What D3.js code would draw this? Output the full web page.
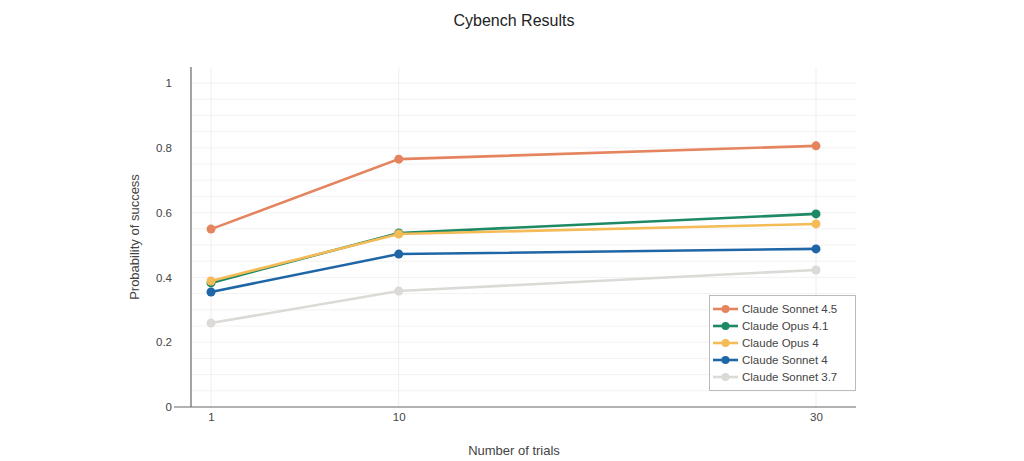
<!DOCTYPE html>
<html><head><meta charset="utf-8">
<script src="https://cdn.jsdelivr.net/npm/d3@7"></script>
<style>body{margin:0;background:#fff;}svg{display:block;font-family:"Liberation Sans",Arial,sans-serif;}</style>
</head><body><svg id="c" width="1024" height="461"></svg>
<script>
const trials = [1, 10, 30];
const seriesNames = ["Claude Sonnet 4.5", "Claude Opus 4.1", "Claude Opus 4", "Claude Sonnet 4", "Claude Sonnet 3.7"];
const sonnet45 = [0.549, 0.765, 0.806];
const opus41 = [0.383, 0.537, 0.596];
const opus4 = [0.389, 0.534, 0.565];
const sonnet4 = [0.355, 0.472, 0.488];
const sonnet37 = [0.259, 0.358, 0.423];
const seriesColors = ["#e5855f", "#1e8a64", "#f4bb57", "#1f66a6", "#dcdad6"];
const yTicks = [0, 0.2, 0.4, 0.6, 0.8, 1];
const xTicks = [1, 10, 30];

const seriesValues = [sonnet45, opus41, opus4, sonnet4, sonnet37];
const FONT = '"Liberation Sans", Arial, sans-serif';
const svg = d3.select("#c");
const x = d3.scaleLinear().domain([1, 30]).range([211, 816]);
const y = d3.scaleLinear().domain([0, 1]).range([407, 83]);
const pL = 191, pR = 856, pT = 67, pB = 407;

// grid
const g = svg.append("g");
g.selectAll("line.hg").data(d3.range(1, 21).map(i => i * 0.05)).enter().append("line")
  .attr("x1", pL).attr("x2", pR).attr("y1", d => y(d)).attr("y2", d => y(d))
  .attr("stroke", "#f2f2f2").attr("stroke-width", 1);
g.selectAll("line.vg").data(xTicks).enter().append("line")
  .attr("x1", d => x(d)).attr("x2", d => x(d)).attr("y1", pT).attr("y2", pB)
  .attr("stroke", "#eeeeee").attr("stroke-width", 1);

// axes
const yAxis = d3.axisLeft(y).tickValues(yTicks).tickSize(0).tickPadding(20).tickFormat(d3.format("~g"));
const ya = svg.append("g").attr("transform", `translate(${pL},0)`).call(yAxis)
  .attr("font-family", FONT).attr("font-size", 11.5);
ya.select(".domain").remove();
ya.selectAll("text").attr("fill", "#444").attr("x", -19);
const xAxis = d3.axisBottom(x).tickValues(xTicks).tickSize(0).tickPadding(6).tickFormat(d3.format("d"));
const xa = svg.append("g").attr("transform", `translate(0,${pB})`).call(xAxis)
  .attr("font-family", FONT).attr("font-size", 11.5);
xa.select(".domain").remove();
xa.selectAll("text").attr("fill", "#444");

svg.append("line").attr("x1", pL).attr("x2", pL).attr("y1", pT).attr("y2", pB)
  .attr("stroke", "#666").attr("stroke-width", 1.2);
svg.append("line").attr("x1", 174).attr("x2", pR).attr("y1", pB).attr("y2", pB)
  .attr("stroke", "#666").attr("stroke-width", 1.2);

// lines
const line = d3.line().x((d, i) => x(trials[i])).y(d => y(d));
const order = [4, 3, 1, 2, 0];
order.forEach(si => {
  const vals = seriesValues[si];
  svg.append("path").datum(vals).attr("d", line).attr("fill", "none")
    .attr("stroke", seriesColors[si]).attr("stroke-width", 2.6);
  svg.selectAll(null).data(vals).enter().append("circle")
    .attr("cx", (d, i) => x(trials[i])).attr("cy", d => y(d)).attr("r", 4.5)
    .attr("fill", seriesColors[si]);
});

// title & labels
svg.append("text").attr("x", 514).attr("y", 26).attr("text-anchor", "middle")
  .style("font-size", "16px").attr("fill", "#222").text("Cybench Results");
svg.append("text").attr("transform", "translate(139,237) rotate(-90)").attr("text-anchor", "middle")
  .style("font-size", "13px").attr("fill", "#444").text("Probability of success");
svg.append("text").attr("x", 514).attr("y", 455).attr("text-anchor", "middle")
  .style("font-size", "13px").attr("fill", "#444").text("Number of trials");

// legend
const lg = svg.append("g");
lg.append("rect").attr("x", 709.5).attr("y", 295.5).attr("width", 146).attr("height", 95)
  .attr("fill", "#fff").attr("stroke", "#bbb").attr("stroke-width", 1);
seriesNames.forEach((n, i) => {
  const yy = 309 + i * 17;
  lg.append("line").attr("x1", 713).attr("x2", 738).attr("y1", yy).attr("y2", yy)
    .attr("stroke", seriesColors[i]).attr("stroke-width", 2.6);
  lg.append("circle").attr("cx", 725.5).attr("cy", yy).attr("r", 4).attr("fill", seriesColors[i]);
  lg.append("text").attr("x", 742).attr("y", yy + 4).style("font-size", "11.5px").attr("fill", "#444").text(n);
});
</script></body></html>
